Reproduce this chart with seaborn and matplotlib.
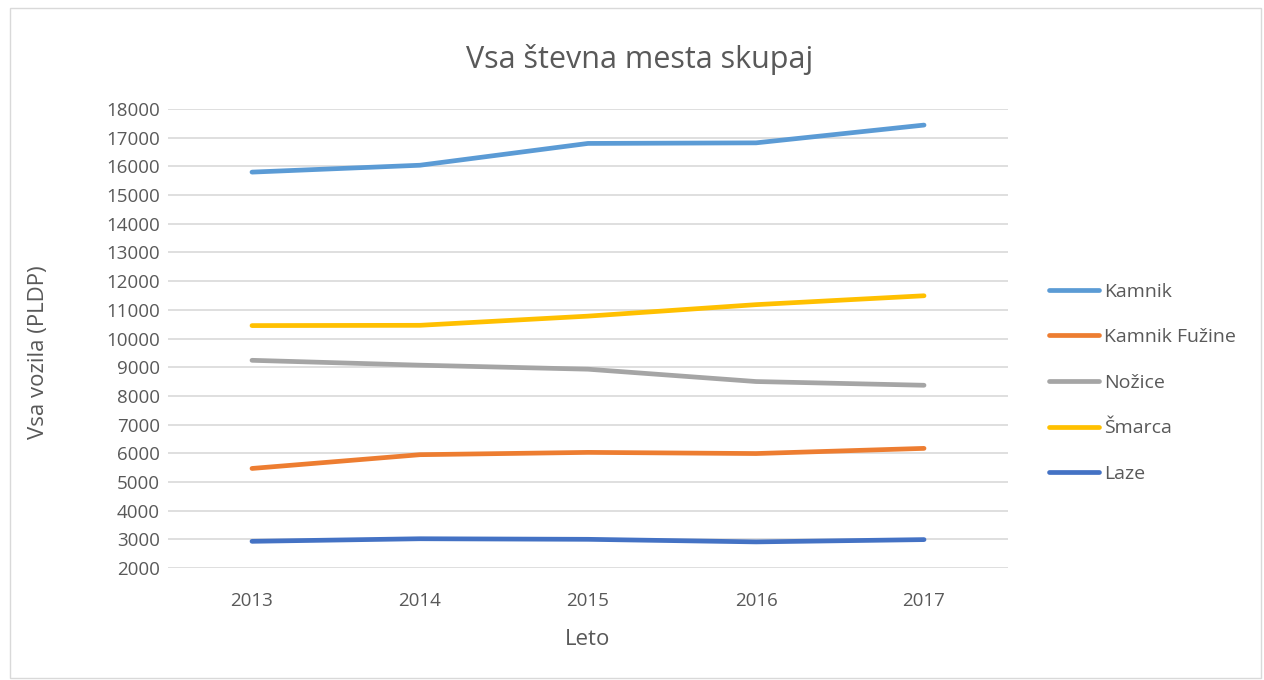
import pandas as pd
import seaborn as sns
import matplotlib.pyplot as plt
from matplotlib.patches import Rectangle

years = [2013, 2014, 2015, 2016, 2017]
kamnik = [15800, 16040, 16800, 16820, 17440]
kamnik_fuzine = [5470, 5950, 6030, 5990, 6170]
nozice = [9240, 9070, 8930, 8500, 8370]
smarca = [10450, 10460, 10780, 11180, 11490]
laze = [2930, 3020, 3000, 2910, 2990]

sites = ["Kamnik", "Kamnik Fužine", "Nožice", "Šmarca", "Laze"]
colors = ["#5B9BD5", "#ED7D31", "#A5A5A5", "#FFC000", "#4472C4"]

df = pd.DataFrame({
    "Leto": years * 5,
    "Mesto": [s for s in sites for _ in years],
    "Vozila": kamnik + kamnik_fuzine + nozice + smarca + laze,
})

sns.set_style("white")
plt.rcParams["font.family"] = ["Open Sans", "DejaVu Sans"]

fig = plt.figure(figsize=(12.64, 6.8), dpi=100)
ax = fig.add_axes([0.1329, 0.1647, 0.6646, 0.6750])

sns.lineplot(data=df, x="Leto", y="Vozila", hue="Mesto", hue_order=sites,
             palette=dict(zip(sites, colors)), linewidth=3.4, ax=ax,
             solid_capstyle="round")

ax.set_xlim(2012.5, 2017.5)
ax.set_ylim(2000, 18000)
ax.set_xticks(years)
ax.set_yticks(range(2000, 18001, 1000))
ax.tick_params(axis="both", labelsize=13.5, colors="#595959", length=0)
ax.tick_params(axis="y", pad=6)
ax.tick_params(axis="x", pad=17)
ax.grid(axis="y", color="#d9d9d9", linewidth=1.2)
ax.set_axisbelow(True)
for s in ax.spines.values():
    s.set_visible(False)

ax.set_xlabel("Leto", fontsize=16, color="#595959")
ax.set_ylabel("Vsa vozila (PLDP)", fontsize=16, color="#595959")
ax.xaxis.set_label_coords(0.5, -0.133)
ax.yaxis.set_label_coords(-0.142, 0.47)
fig.text(0.5063, 0.912, "Vsa števna mesta skupaj", ha="center", va="center",
         fontsize=22, color="#595959")

handles, labels = ax.get_legend_handles_labels()
ax.legend(handles, labels, loc="center left", bbox_to_anchor=(0.816, 0.437),
          bbox_transform=fig.transFigure, frameon=False, fontsize=14,
          labelspacing=1.42, handlelength=2.6, handletextpad=0.25,
          labelcolor="#595959")

fig.patches.append(Rectangle((0.008, 0.003), 0.99, 0.985, transform=fig.transFigure,
                             fill=False, edgecolor="#d9d9d9", linewidth=1))

fig.savefig("out.png", dpi=100)
